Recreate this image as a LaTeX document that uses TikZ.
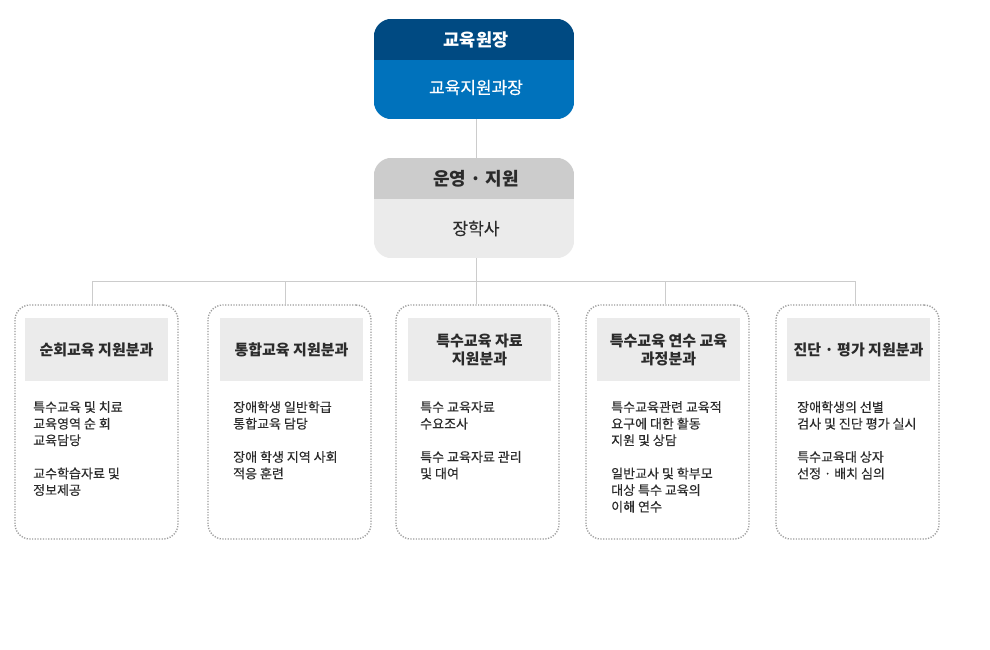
\documentclass[tikz,border=0pt]{standalone}
\usepackage{fontspec}
\setmainfont{Noto Sans CJK KR}
\newfontfamily\medfont[FakeBold=0.35]{Noto Sans CJK KR}
\definecolor{cDark}{HTML}{004A82}
\definecolor{cBlue}{HTML}{0072BC}
\definecolor{cGrayHead}{HTML}{CCCCCC}
\definecolor{cGrayLight}{HTML}{EBEBEB}
\definecolor{cLine}{HTML}{CCCCCC}
\definecolor{cText}{HTML}{2B2B2B}
\definecolor{cDot}{HTML}{9C9C9C}
\tikzset{
  frame/.style={draw=none, inner sep=0, minimum width=200pt, minimum height=100pt},
  unit/.style={draw=cDot, line width=1.4pt, dash pattern=on 1.2pt off 1.5pt, rounded corners=15pt,
    inner sep=0, minimum width=163pt, minimum height=234pt},
  headbox/.style={fill=cGrayLight, inner sep=0, minimum width=143pt, minimum height=63pt,
    align=center, text=cText, font=\bfseries\fontsize{15}{18}\selectfont},
  bodytext/.style={anchor=north west, inner sep=0, align=left, text=cText,
    font=\medfont\fontsize{13}{16.6}\selectfont},
  conn/.style={draw=cLine, line width=0.9pt},
}
\begin{document}
\begin{tikzpicture}[x=1pt,y=-1pt]
\useasboundingbox[fill=white] (0,0) rectangle (990,650);

% director box
\node[frame] (chief) at (474,69) {};
\begin{scope}
  \clip[rounded corners=18pt] (chief.north west) rectangle (chief.south east);
  \fill[cDark] (chief.north west) rectangle (574,60);
  \fill[cBlue] (374,60) rectangle (chief.south east);
\end{scope}
\node[text=white, font=\bfseries\fontsize{17.5}{20}\selectfont] (chiefT) at (476,39.5) {교육원장};
\node[text=white, font=\medfont\fontsize{17}{20}\selectfont] (chiefS) at (476,87.5) {교육지원과장};

% operations box
\node[frame] (ops) at (474,208) {};
\begin{scope}
  \clip[rounded corners=18pt] (ops.north west) rectangle (ops.south east);
  \fill[cGrayHead] (ops.north west) rectangle (574,199);
  \fill[cGrayLight] (374,199) rectangle (ops.south east);
\end{scope}
\node[text=cText, font=\bfseries\fontsize{18}{20}\selectfont] (opsT) at (476,178.5) {운영 · 지원};
\node[text=cText, font=\medfont\fontsize{17}{20}\selectfont] (opsS) at (476,228.5) {장학사};

% bottom units
\node[unit] (b1) at (96.5,422) {};
\node[unit] (b2) at (289.5,422) {};
\node[unit] (b3) at (477.5,422) {};
\node[unit] (b4) at (667.5,422) {};
\node[unit] (b5) at (857.5,422) {};

\node[headbox] (h1) at (96.5,349.5) {순회교육 지원분과};
\node[headbox] (h2) at (291.5,349.5) {통합교육 지원분과};
\node[headbox] (h3) at (479.5,349.5) {특수교육 자료\\지원분과};
\node[headbox] (h4) at (668.5,349.5) {특수교육 연수 교육\\과정분과};
\node[headbox] (h5) at (858.5,349.5) {진단 · 평가 지원분과};

\node[bodytext] (t1) at (33,401) {특수교육 및 치료\\교육영역 순 회\\교육담당\\[16.6pt]교수학습자료 및\\정보제공};
\node[bodytext] (t2) at (233,401) {장애학생 일반학급\\통합교육 담당\\[16.6pt]장애 학생 지역 사회\\적응 훈련};
\node[bodytext] (t3) at (420,401) {특수 교육자료\\수요조사\\[16.6pt]특수 교육자료 관리\\및 대여};
\node[bodytext] (t4) at (611,401) {특수교육관련 교육적\\요구에 대한 활동\\지원 및 상담\\[16.6pt]일반교사 및 학부모\\대상 특수 교육의\\이해 연수};
\node[bodytext] (t5) at (797,401) {장애학생의 선별\\검사 및 진단 평가 실시\\[16.6pt]특수교육대 상자\\선정 · 배치 심의};

% connectors
\coordinate (hub) at (476,281);
\coordinate (d1) at (92,281);
\coordinate (d2) at (285,281);
\coordinate (d4) at (665,281);
\coordinate (d5) at (855,281);
\draw[conn] (chief.south -| hub) -- (ops.north -| hub);
\draw[conn] (ops.south -| hub) -- (hub);
\draw[conn] (d1) -- (d5);
\draw[conn] (d1) -- (d1 |- b1.north);
\draw[conn] (d2) -- (d2 |- b2.north);
\draw[conn] (hub) -- (hub |- b3.north);
\draw[conn] (d4) -- (d4 |- b4.north);
\draw[conn] (d5) -- (d5 |- b5.north);
\end{tikzpicture}
\end{document}
